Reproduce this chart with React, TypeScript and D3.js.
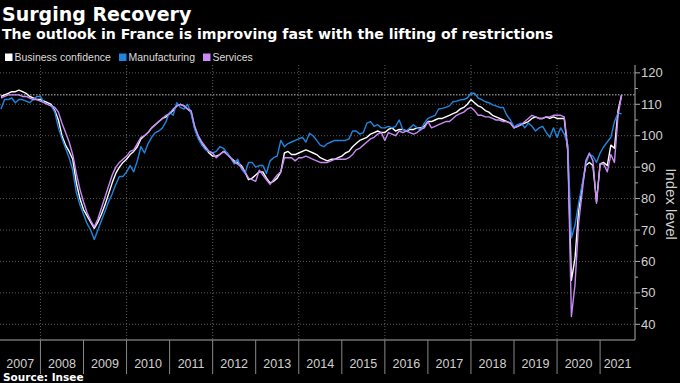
import React from 'react';
import * as d3 from 'd3';

// ---- data (monthly, Jan 2007 – Jun 2021) ----
const startYear = 2007;
const yearLabels = [2007, 2008, 2009, 2010, 2011, 2012, 2013, 2014, 2015, 2016, 2017, 2018, 2019, 2020, 2021];
const yTicks = [40, 50, 60, 70, 80, 90, 100, 110, 120];
const latestValue = 113;

const business = [
  112.5, 113, 113.5, 114, 114, 114.5, 114, 113.5, 112.5, 112, 111.5, 111.5,
  111, 110.5, 110, 108, 105, 100, 97, 95, 92.5, 85, 80, 76.5,
  74.5, 72.5, 70.5, 72.5, 75, 78, 81.5, 85, 88, 90, 91.5, 92.5,
  94, 95, 96.5, 99, 100, 101, 102.5, 103.5, 104.5, 105.5, 106, 107,
  108, 109.5, 110, 109.5, 108.5, 107.5, 102.5, 99.5, 97.5, 96, 94.5, 93.5,
  93.5, 94, 95, 94.5, 93, 92, 91.5, 90.5, 88.5, 86, 86.5, 87.5,
  88.5, 88.5, 86.5, 85, 85.5, 86.5, 88.5, 94.5, 95, 94, 94, 94.5,
  95, 95.5, 95, 94.5, 94, 93, 92.5, 92, 92.5, 92.5, 93, 93.5,
  94.5, 95, 96.5, 97.5, 98.5, 99, 99.5, 100.5, 101, 101.5, 101, 101,
  102, 102.5, 101.5, 102, 102, 101.5, 102, 102, 102.5, 102.5, 103, 104.5,
  104.5, 105, 105.5, 105.5, 106, 106.5, 107, 107.5, 108.5, 109, 110, 111.5,
  110.5, 109.5, 109, 108, 107.5, 106.5, 106, 105.5, 105, 104.5, 104, 102.5,
  103, 103.5, 104, 104.5, 105.5, 106, 105.5, 105.5, 106, 105.5, 106, 105.5,
  105.5, 105.5, 95, 54, 61, 76, 84, 90.5, 91.5, 90.5, 79, 91,
  91.5, 90.5, 97, 96, 108, 113,
];

const manufacturing = [
  108.5, 111.5, 111.5, 112, 110.5, 111.5, 111.5, 111, 110.5, 111.5, 112.5, 112.5,
  110.5, 110, 109.5, 107.5, 102.5, 99, 96, 93, 89, 82, 78, 75,
  72, 70, 67, 70, 73, 76, 79, 81.5, 84.5, 87, 87, 88.5,
  90.5, 88.5, 92, 96.5, 94.5, 97.5, 99.5, 101, 101.5, 102.5, 104.5, 107.5,
  106.5, 110.5, 109, 108.5, 110, 107, 102, 99, 97, 95.5, 95, 94.5,
  95, 96.5, 96, 94.5, 93, 91, 92.5, 89.5, 88, 91.5, 91.5, 90,
  90.5, 90.5, 88, 92, 93, 93.5, 98.5, 96.5, 97.5, 98, 98.5, 99,
  99.5, 98, 100.8, 100, 98.5, 97, 96.5, 97.5, 98, 98.5, 98.5, 98.5,
  98.5, 99, 101.5, 101.5, 100.5, 101, 104, 104.5, 103, 103.5, 102.5, 102.5,
  103, 102.5, 103, 105, 102, 101.5, 102.5, 103.5, 102.5, 101.8, 104, 105.5,
  106, 106.5, 108.5, 108.7, 109, 109.5, 110.8, 111, 111.4, 111.5, 112, 113.5,
  113.5, 112, 111.5, 110.8, 110.5, 109.8, 109.5, 109, 109, 106.5, 105, 102.8,
  103.5, 104, 102.5, 104, 103, 101.5, 102.5, 103, 101, 99.5, 102.5, 99.5,
  102.5, 100.5, 97, 67.5, 71.5, 78.5, 84.5, 91, 94, 93.5, 91.5, 94.5,
  96.5, 98, 99.5, 104.5, 107.2, 107,
];

const services = [
  112, 112.5, 113, 113, 113, 113, 112.5, 112.5, 112, 111.5, 111.5, 111,
  110.5, 110, 109.5, 109, 107.5, 104, 101, 98, 94, 88, 83, 79,
  75.5, 73, 71, 73.5, 77, 80.5, 84, 87.5, 90, 91.5, 92.5, 93.5,
  95, 95.5, 97.5, 99.5, 100, 101, 102.5, 103.5, 104.5, 105.5, 106.5, 107,
  108.5, 109.5, 110, 109.5, 108.5, 108, 103, 100, 98, 96.5, 95, 94.5,
  93, 94, 95, 94, 93, 91.5, 91, 90, 88.5, 86.5, 86, 85.5,
  89, 87.5, 86, 84.5, 86, 87.5, 88.5, 93, 93, 93, 92, 93,
  93, 93.5, 93, 92.5, 92, 91.5, 91.5, 91.5, 92, 92.5, 92.5, 92.5,
  92.5, 93, 94, 95.5, 96, 97, 98, 99, 99.5, 100.5, 101, 98.5,
  101, 100.5, 100, 101.5, 101, 101.5, 101, 100.5, 101, 102, 102.5, 104.5,
  102.5, 103, 103.5, 104, 104.5, 104.5, 105.5, 106.5, 107, 107.5, 108.5, 109,
  108, 106.5, 106.5, 106, 106, 105.5, 105, 105, 104.5, 104.5, 104, 102.5,
  103, 103.5, 104.5, 105.5, 106.5, 106, 105.5, 105.5, 106, 106, 106.5, 106.5,
  106.5, 106, 96, 42.5, 52.5, 72, 82, 92, 94.5, 92, 78.5, 91,
  91, 88.5, 94, 91.5, 106.5, 113,
];

const seriesNames = ['Business confidence', 'Manufacturing', 'Services'];
const seriesColors = ['#ffffff', '#1f86e0', '#c98af5'];

const W = 680;
const H = 383;
const plotRight = 635;
const plotTop = 65;
const plotBottom = 340;
const font = '"Liberation Sans", Arial, sans-serif';
const headFont = '"DejaVu Sans", "Liberation Sans", sans-serif';

export default function App() {
  const x = d3.scaleLinear().domain([2007, 2022]).range([-2.6, 643.15]);
  const y = d3.scaleLinear().domain([35, 122.5]).range([plotBottom, plotTop]);
  const t = (i: number) => startYear + (i + 1) / 12;
  const line = d3
    .line<number>()
    .x((_, i) => x(t(i)))
    .y((d) => y(d));

  const minorTicks = d3.range(45, 121, 10);
  const allSeries = [business, manufacturing, services];

  return (
    <svg
      width={W}
      height={H}
      style={{ position: 'absolute', left: 0, top: 0, display: 'block' }}
      fontFamily={font}
    >
      <rect x={0} y={0} width={W} height={H} fill="#000" />
      <defs>
        <clipPath id="plot">
          <rect x={0} y={plotTop - 5} width={plotRight} height={plotBottom - plotTop + 5} />
        </clipPath>
      </defs>

      {/* title */}
      <text x={2} y={21} fill="#fff" fontSize={19} fontWeight="bold" fontFamily={headFont}>
        Surging Recovery
      </text>
      <text x={2} y={38.5} fill="#fff" fontSize={14.1} fontWeight="bold" fontFamily={headFont}>
        The outlook in France is improving fast with the lifting of restrictions
      </text>

      {/* legend */}
      {seriesNames.map((name, k) => {
        const lx = [5, 119, 203][k];
        return (
          <g key={name}>
            <rect x={lx} y={53.5} width={7.5} height={7.5} fill={seriesColors[k]} />
            <text x={lx + 9.5} y={61} fill="#ddd" fontSize={10.5}>
              {name}
            </text>
          </g>
        );
      })}

      {/* horizontal grid */}
      {yTicks.map((v) => (
        <line
          key={'g' + v}
          x1={0}
          x2={plotRight}
          y1={y(v)}
          y2={y(v)}
          stroke="#5a5a5a"
          strokeWidth={1}
          strokeDasharray="1,2"
        />
      ))}
      {/* vertical grid every two years */}
      {yearLabels
        .filter((yr) => yr % 2 === 0)
        .map((yr) => (
          <line
            key={'v' + yr}
            x1={x(yr)}
            x2={x(yr)}
            y1={plotTop}
            y2={plotBottom}
            stroke="#5a5a5a"
            strokeWidth={1}
            strokeDasharray="1,2"
          />
        ))}
      {/* latest value reference line */}
      <line
        x1={0}
        x2={plotRight}
        y1={y(latestValue)}
        y2={y(latestValue)}
        stroke="#bdbdbd"
        strokeWidth={1}
        strokeDasharray="1.5,1.5"
      />

      {/* series */}
      <g clipPath="url(#plot)">
        {allSeries.map((s, k) => (
          <path
            key={seriesNames[k]}
            d={line(s) || ''}
            fill="none"
            stroke={seriesColors[k]}
            strokeWidth={1.4}
            strokeLinejoin="round"
          />
        ))}
      </g>

      {/* x axis */}
      <line x1={0} x2={plotRight} y1={plotBottom} y2={plotBottom} stroke="#aaa" strokeWidth={1} />
      {yearLabels.slice(1).map((yr) => (
        <line key={'s' + yr} x1={x(yr)} x2={x(yr)} y1={plotBottom} y2={374} stroke="#888" strokeWidth={1} />
      ))}
      {yearLabels.map((yr) => {
        const a = Math.max(0, x(yr));
        const b = Math.min(plotRight, x(yr + 1));
        return (
          <text key={'l' + yr} x={(a + b) / 2} y={368} fill="#d0d0d0" fontSize={12.5} textAnchor="middle">
            {yr}
          </text>
        );
      })}

      {/* y axis (right) */}
      <line x1={plotRight} x2={plotRight} y1={plotTop} y2={plotBottom} stroke="#aaa" strokeWidth={1} />
      {yTicks.map((v) => (
        <g key={'t' + v}>
          <line x1={plotRight} x2={plotRight + 5} y1={y(v)} y2={y(v)} stroke="#aaa" />
          <text x={plotRight + 6} y={y(v) + 4.5} fill="#d0d0d0" fontSize={13}>
            {v}
          </text>
        </g>
      ))}
      {minorTicks.map((v) => (
        <line key={'m' + v} x1={plotRight} x2={plotRight + 3} y1={y(v)} y2={y(v)} stroke="#aaa" />
      ))}
      <text
        transform={`translate(666,204) rotate(90)`}
        fill="#d0d0d0"
        fontSize={15}
        textAnchor="middle"
      >
        Index level
      </text>

      {/* source */}
      <text x={3} y={381} fill="#fff" fontSize={10.5} fontWeight="bold" fontFamily={headFont}>
        Source: Insee
      </text>
    </svg>
  );
}
